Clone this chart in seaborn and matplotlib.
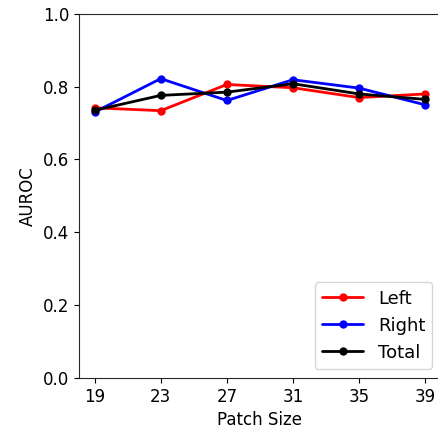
import matplotlib
matplotlib.use("Agg")
import matplotlib.pyplot as plt
import seaborn as sns
import pandas as pd

patch_sizes = [19, 23, 27, 31, 35, 39]
left = [0.742, 0.734, 0.806, 0.797, 0.770, 0.780]
right = [0.730, 0.822, 0.762, 0.819, 0.796, 0.750]
total = [0.735, 0.776, 0.785, 0.808, 0.780, 0.765]

df = pd.DataFrame({
    "Patch Size": patch_sizes * 3,
    "AUROC": left + right + total,
    "Side": ["Left"] * 6 + ["Right"] * 6 + ["Total"] * 6,
})

sns.set_style("ticks")
plt.rcParams['font.family'] = ['DejaVu Sans']
plt.rcParams['text.color'] = 'black'
plt.rcParams['axes.labelcolor'] = 'black'
plt.rcParams['xtick.color'] = 'black'
plt.rcParams['ytick.color'] = 'black'
fig, ax = plt.subplots(figsize=(4.38, 4.32), dpi=100)
fig.subplots_adjust(left=0.18, right=1.03, top=0.968, bottom=0.125)

sns.lineplot(data=df, x="Patch Size", y="AUROC", hue="Side",
             palette={"Left": "red", "Right": "blue", "Total": "black"},
             marker="o", markersize=6, markeredgewidth=0, linewidth=2, ax=ax)

ax.set_ylim(0, 1.0)
ax.set_xlim(18.05, 40.56)
ax.set_xticks(patch_sizes)
ax.set_yticks([0.0, 0.2, 0.4, 0.6, 0.8, 1.0])
ax.tick_params(labelsize=12)
ax.set_xlabel("Patch Size", fontsize=12, x=0.485)
ax.set_ylabel("AUROC", fontsize=12)
ax.legend(title=None, fontsize=13, loc="lower right", handlelength=2.3,
          bbox_to_anchor=(0.974, 0.0))
fig.savefig("out.png", dpi=100)
